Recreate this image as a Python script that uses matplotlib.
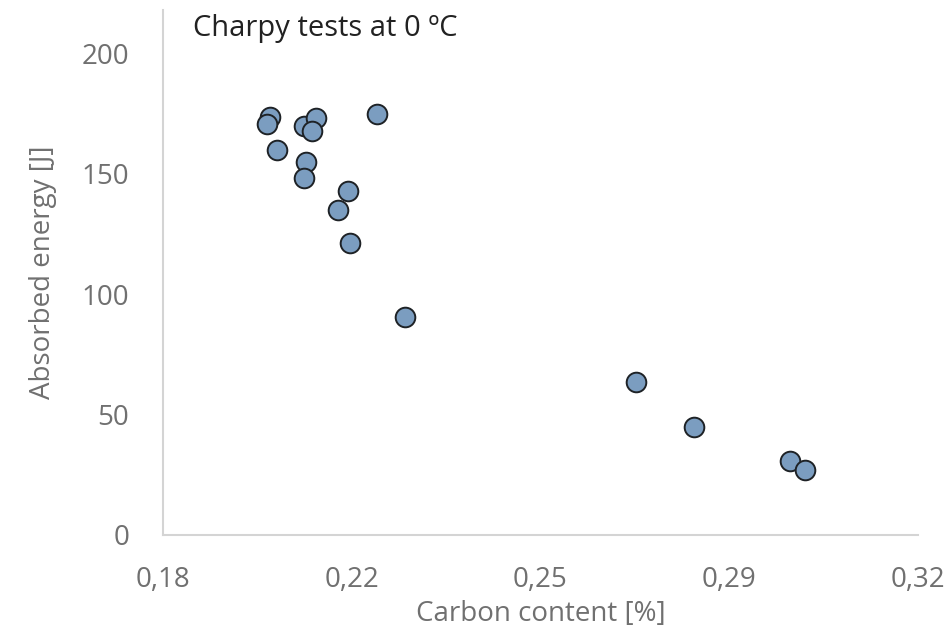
import matplotlib
matplotlib.use("Agg")
import matplotlib.pyplot as plt
from matplotlib.ticker import FixedLocator, FixedFormatter

plt.rcParams["font.family"] = ["Open Sans", "DejaVu Sans"]

# carbon content [%] vs absorbed energy [J], Charpy at 0 ºC
carbon = [0.1999, 0.1993, 0.2012, 0.2062, 0.2084, 0.2077, 0.2066, 0.2062,
          0.2197, 0.2143, 0.2125, 0.2147, 0.2249, 0.2677, 0.2785, 0.2963, 0.2990]
energy = [173.4, 170.5, 159.8, 169.7, 173.0, 167.6, 154.8, 148.1,
          174.7, 142.7, 134.9, 121.2, 90.5, 63.5, 44.8, 30.7, 27.0]

x_ticks = [0.18, 0.215, 0.25, 0.285, 0.32]
x_tick_labels = ["0,18", "0,22", "0,25", "0,29", "0,32"]
y_ticks = [0, 50, 100, 150, 200]

GRAY_TXT, SPINE = "#707070", "#d4d4d4"
FS = 20

fig = plt.figure(figsize=(9.52, 6.39), dpi=100)
ax = fig.add_axes([0.1709, 0.1628, 0.7934, 0.8216])

ax.scatter(carbon, energy, s=200, color="#7b9dc0", edgecolors="#1e2226",
           linewidths=1.4, zorder=3)

ax.set_xlim(0.18, 0.32)
ax.set_ylim(0, 218)
ax.xaxis.set_major_locator(FixedLocator(x_ticks))
ax.xaxis.set_major_formatter(FixedFormatter(x_tick_labels))
ax.set_yticks(y_ticks)

for s in ["top", "right"]:
    ax.spines[s].set_visible(False)
for s in ["left", "bottom"]:
    ax.spines[s].set_color(SPINE)
    ax.spines[s].set_linewidth(1.5)

ax.tick_params(axis="both", length=0, labelsize=FS, labelcolor=GRAY_TXT)
ax.tick_params(axis="x", pad=22)
ax.tick_params(axis="y", pad=24)

ax.set_xlabel("Carbon content [%]", fontsize=FS, color=GRAY_TXT, labelpad=5)
ax.set_ylabel("Absorbed energy [J]", fontsize=FS, color=GRAY_TXT, labelpad=18)

ax.text(0.04, 0.965, "Charpy tests at 0 ºC", transform=ax.transAxes,
        fontsize=21, color="#222222", ha="left", va="center")

fig.savefig("out.png", dpi=100)
